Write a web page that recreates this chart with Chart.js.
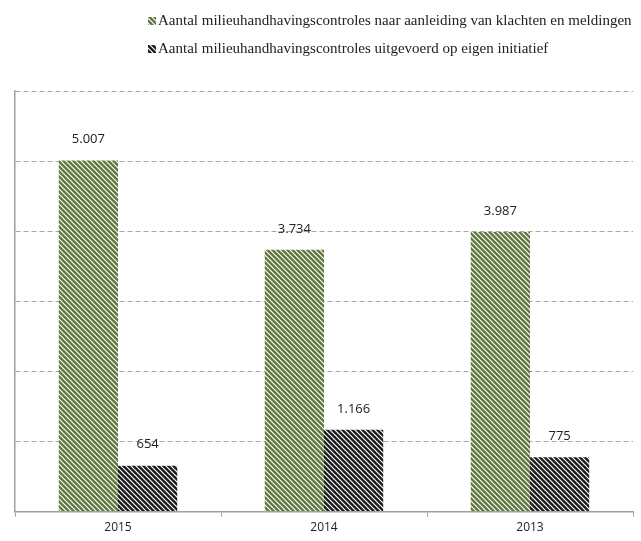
<!DOCTYPE html>
<html>
<head>
<meta charset="utf-8">
<script src="https://cdn.jsdelivr.net/npm/chart.js@4.4.1/dist/chart.umd.min.js"></script>
<style>
  html, body { margin: 0; padding: 0; background: #fff; }
  #wrap { width: 641px; height: 541px; }
</style>
</head>
<body>
<div id="wrap"><canvas id="myChart" width="641" height="541"></canvas></div>
<script>
'use strict';

// data
const years = ['2015', '2014', '2013'];
const seriesNames = [
  'Aantal milieuhandhavingscontroles naar aanleiding van klachten en meldingen',
  'Aantal milieuhandhavingscontroles uitgevoerd op eigen initiatief'
];
const klachtenValues = [5007, 3734, 3987];
const eigenValues = [654, 1166, 775];

const greenColor = '#5e773b';
const blackColor = '#1a1a1a';

// diagonal striped fill like the original
function makePattern(color) {
  let size = 5;
  let c = document.createElement('canvas');
  c.width = size;
  c.height = size;
  let g = c.getContext('2d');
  g.fillStyle = color;
  g.fillRect(0, 0, size, size);
  g.strokeStyle = '#ffffff';
  g.lineWidth = 1.2;
  g.beginPath();
  g.moveTo(-1, -1);
  g.lineTo(size + 1, size + 1);
  g.moveTo(-1, size - 1);
  g.lineTo(1, size + 1);
  g.moveTo(size - 1, -1);
  g.lineTo(size + 1, 1);
  g.stroke();
  return g.createPattern(c, 'repeat');
}

const ctx = document.getElementById('myChart').getContext('2d');
const greenPattern = makePattern(greenColor);
const blackPattern = makePattern(blackColor);

function dotted(n) {
  return String(n).replace(/\B(?=(\d{3})+(?!\d))/g, '.');
}

const valueLabels = {
  id: 'valueLabels',
  afterDatasetsDraw(chart) {
    let c = chart.ctx;
    c.save();
    c.font = '13px "Open Sans"';
    c.fillStyle = '#222';
    c.textAlign = 'center';
    c.textBaseline = 'middle';
    chart.data.datasets.forEach((ds, i) => {
      chart.getDatasetMeta(i).data.forEach((bar, j) => {
        c.fillText(dotted(ds.data[j]), bar.x, bar.y - 21);
      });
    });
    c.restore();
  }
};

const topLegend = {
  id: 'topLegend',
  afterDraw(chart) {
    let c = chart.ctx;
    let fills = [greenPattern, blackPattern];
    let rows = [21, 49];
    c.save();
    c.font = '15px "Liberation Serif"';
    c.textBaseline = 'middle';
    for (let i = 0; i < seriesNames.length; i++) {
      c.fillStyle = fills[i];
      c.fillRect(148, rows[i] - 4, 8, 8);
      c.fillStyle = '#222';
      c.fillText(seriesNames[i], 158, rows[i]);
    }
    c.restore();
  }
};

let myChart = new Chart(ctx, {
  type: 'bar',
  data: {
    labels: years,
    datasets: [{
      label: seriesNames[0],
      data: klachtenValues,
      backgroundColor: greenPattern,
      borderWidth: 0
    }, {
      label: seriesNames[1],
      data: eigenValues,
      backgroundColor: blackPattern,
      borderWidth: 0
    }]
  },
  options: {
    responsive: false,
    animation: false,
    layout: {
      padding: { top: 91, left: 15, right: 8, bottom: 2 }
    },
    datasets: {
      bar: { barPercentage: 1, categoryPercentage: 0.575 }
    },
    plugins: {
      legend: { display: false },
      tooltip: { enabled: false }
    },
    scales: {
      x: {
        grid: {
          offset: true,
          drawOnChartArea: false,
          drawTicks: true,
          tickLength: 5,
          color: '#a0a0a0'
        },
        border: { color: '#a0a0a0', width: 1.5 },
        ticks: {
          color: '#222',
          font: { family: 'Open Sans', size: 12 },
          padding: 4
        }
      },
      y: {
        min: 0,
        max: 6000,
        ticks: { display: false, stepSize: 1000 },
        grid: {
          drawTicks: false,
          color: '#a6a6a6',
          lineWidth: 1
        },
        border: { color: '#a0a0a0', width: 1.5, dash: [5, 3] }
      }
    }
  },
  plugins: [valueLabels, topLegend]
});
</script>
</body>
</html>
